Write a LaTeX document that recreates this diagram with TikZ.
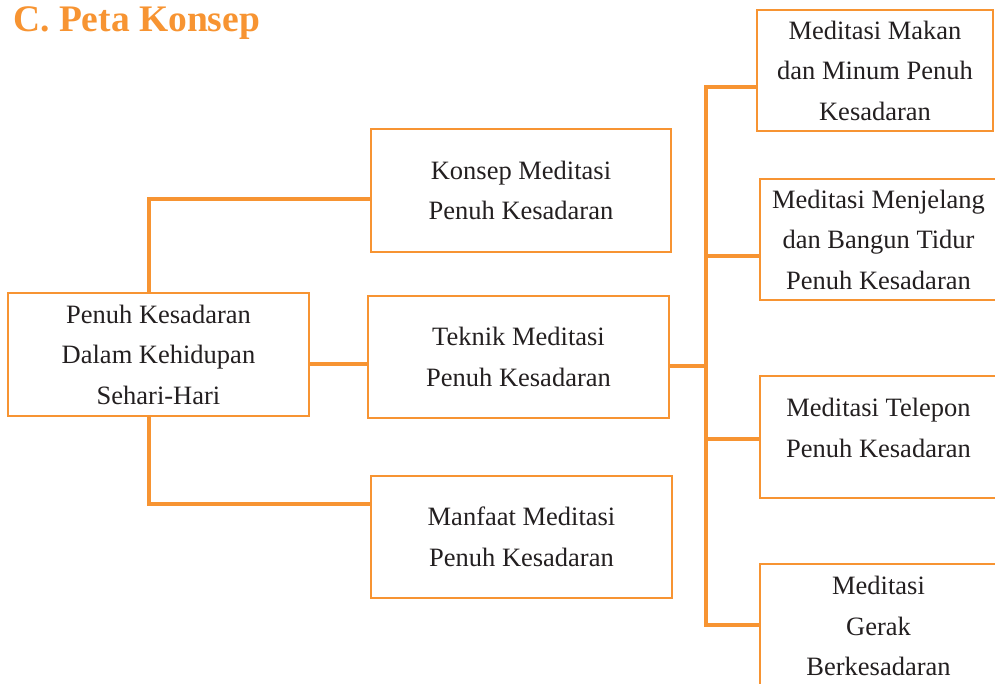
\documentclass[tikz,border=0pt]{standalone}
\usepackage{fontspec}
\setmainfont{Liberation Serif}
\definecolor{org}{RGB}{247,148,50}
\definecolor{ink}{RGB}{35,31,32}
\begin{document}
\begin{tikzpicture}[x=1pt,y=-1pt,
  box/.style={draw=org, line width=2.5pt, inner sep=0pt, align=center, text=ink,
    font=\fontsize{26.5}{40.5}\selectfont},
  txt/.style={inner sep=0pt, align=center, text=ink, font=\fontsize{26.5}{40.5}\selectfont},
  conn/.style={draw=org, line width=4pt, line join=miter},
  title/.style={inner sep=0pt, text=org, font=\fontsize{37.5}{40}\selectfont\bfseries}]
\useasboundingbox (0,0) rectangle (995,684);
\clip (0,0) rectangle (995,684);

\node[title, anchor=base west] (ttl) at (13,32) {C. Peta Konsep};

\node[box, minimum width=301pt, minimum height=123pt] (root) at (158.5,354.5)
  {Penuh Kesadaran\\Dalam Kehidupan\\Sehari-Hari};
\node[box, minimum width=300pt, minimum height=123pt] (konsep) at (521,190.5)
  {Konsep Meditasi\\Penuh Kesadaran};
\node[box, minimum width=301pt, minimum height=122pt] (teknik) at (518.5,357)
  {Teknik Meditasi\\Penuh Kesadaran};
\node[box, minimum width=301pt, minimum height=122pt] (manfaat) at (521.5,537)
  {Manfaat Meditasi\\Penuh Kesadaran};

\node[box, minimum width=236pt, minimum height=121pt] (makan) at (875,70.5)
  {Meditasi Makan\\dan Minum Penuh\\Kesadaran};
\node[box, minimum width=237pt, minimum height=121pt] (menjelang) at (878.5,239.5)
  {Meditasi Menjelang\\dan Bangun Tidur\\Penuh Kesadaran};
\node[box, minimum width=237pt, minimum height=122pt] (telepon) at (878.5,437) {};
\node[txt] (telt) at (878.5,428) {Meditasi Telepon\\Penuh Kesadaran};
\node[box, minimum width=237pt, minimum height=124pt] (gerak) at (878.5,626)
  {Meditasi\\Gerak\\Berkesadaran};

% left connectors
\coordinate (ka) at ([yshift=-8.5pt]konsep.west);
\coordinate (ma) at ([yshift=33pt]manfaat.west);
\coordinate (ra) at ([yshift=-9.5pt]root.east);
\draw[conn] ([xshift=-9.5pt]root.north) |- (ka);
\draw[conn] ([xshift=-9.5pt]root.south) |- (ma);
\draw[conn] (ra) -- (ra -| teknik.west);

% right trunk
\coordinate (tk) at (705.5,0);
\coordinate (ta) at ([yshift=-9pt]teknik.east);
\coordinate (b1) at ([yshift=-16.5pt]makan.west);
\coordinate (b2) at ([yshift=-16.5pt]menjelang.west);
\coordinate (b3) at ([yshift=-1.5pt]telepon.west);
\coordinate (b4) at ([yshift=1pt]gerak.west);
\draw[conn] (b1) -- (b1 -| tk) -- (b4 -| tk) -- (b4);
\draw[conn] (b2 -| tk) -- (b2);
\draw[conn] (b3 -| tk) -- (b3);
\draw[conn] (ta) -- (ta -| tk);
\end{tikzpicture}
\end{document}
